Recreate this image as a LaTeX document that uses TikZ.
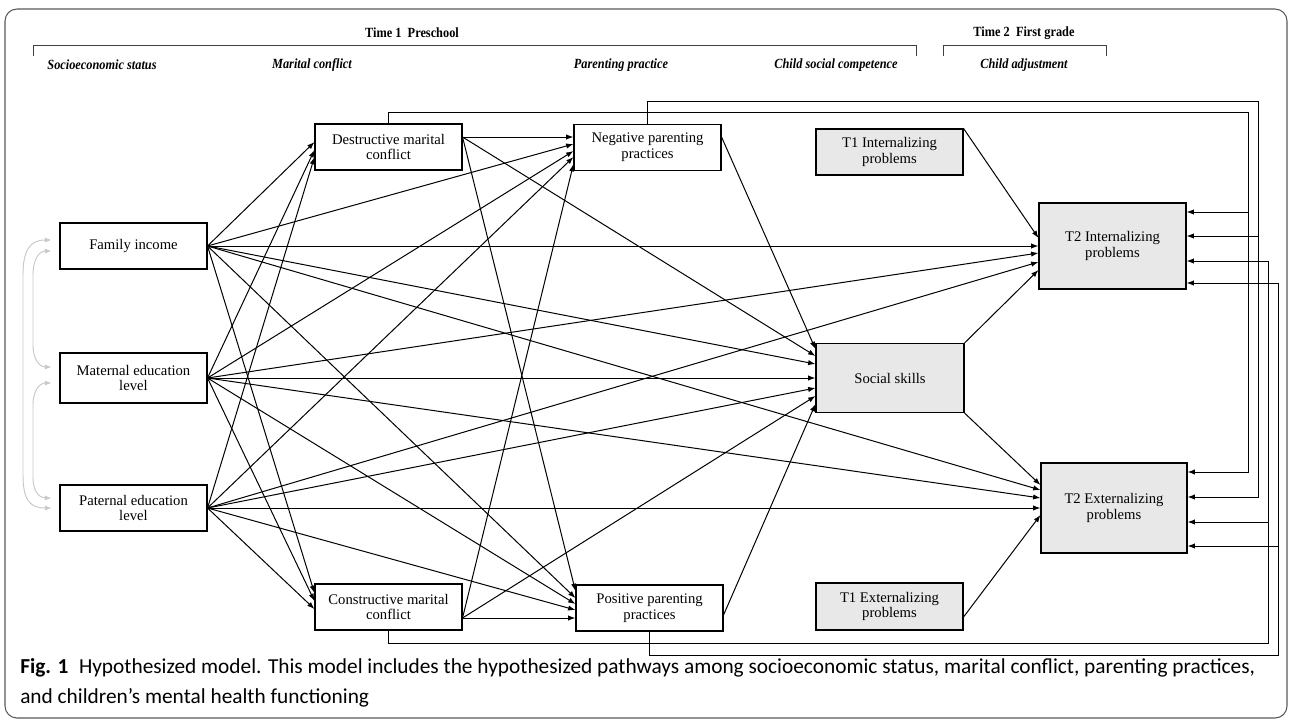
\documentclass[tikz,border=0pt]{standalone}
\usepackage{fontspec}
\setmainfont{Liberation Serif}
\newfontfamily\capfont{Carlito}
\newfontfamily\hdrfont[FakeStretch=0.88]{Liberation Serif}
\usetikzlibrary{arrows.meta,calc}
\begin{document}
\begin{tikzpicture}[x=0.75pt,y=-0.75pt,
  box/.style={draw, line width=0.8pt, fill=white, minimum width=110.25pt, minimum height=34.5pt,
    align=center, inner sep=1pt, font=\fontsize{11}{11.8}\selectfont},
  gbox/.style={box, fill=black!9},
  arr/.style={-{Latex[length=5.5pt,width=4pt]}, line width=0.75pt, line join=miter},
  corr/.style={{Latex[length=5pt,width=3.8pt]}-{Latex[length=5pt,width=3.8pt]}, draw=black!22, line width=0.7pt},
  bracket/.style={draw=black!75, line width=0.75pt},
  hdr/.style={font=\hdrfont\fontsize{10.5}{12}\selectfont\bfseries},
  colhdr/.style={font=\hdrfont\fontsize{10.5}{12}\selectfont\bfseries\itshape},
  captxt/.style={anchor=base west, inner sep=0pt, font=\capfont\fontsize{16}{19}\selectfont}]
\useasboundingbox (0,0) rectangle (1292,722);
\draw[black!65, line width=0.8pt, rounded corners=9pt] (5,9) rectangle (1287,718);

% headers
\node[hdr] (h1) at (412,33) {Time 1\ \ Preschool};
\node[hdr] (h2) at (1024,33) {Time 2\ \ First grade};
\draw[bracket] (33,56) -- (33,45) -- (916,45) -- (916,56);
\draw[bracket] (943,56) -- (943,45) -- (1106,45) -- (1106,56);
\node[colhdr] (c1) at (102,65) {Socioeconomic status};
\node[colhdr] (c2) at (312,65) {Marital conflict};
\node[colhdr] (c3) at (621,65) {Parenting practice};
\node[colhdr] (c4) at (836,65) {Child social competence};
\node[colhdr] (c5) at (1024,65) {Child adjustment};

% nodes
\node[box] (fi) at (133.5,246) {Family income};
\node[box, minimum height=37.5pt] (me) at (133.5,378) {Maternal education\\level};
\node[box] (pe) at (133.5,508) {Paternal education\\level};
\node[box] (dmc) at (388.5,147) {Destructive marital\\conflict};
\node[box] (npp) at (647.5,147.5) {Negative parenting\\practices};
\node[box] (cmc) at (388.5,607) {Constructive marital\\conflict};
\node[box] (ppp) at (649.5,608) {Positive parenting\\practices};
\node[gbox] (t1i) at (889.5,152) {T1 Internalizing\\problems};
\node[gbox, minimum width=111pt, minimum height=51.75pt] (ss) at (890,378) {Social skills};
\node[gbox, minimum height=35.25pt] (t1e) at (889.5,606.5) {T1 Externalizing\\problems};
\node[gbox, minimum height=64.5pt] (t2i) at (1112.5,246) {T2 Internalizing\\problems};
\node[gbox, minimum width=109.5pt, minimum height=67.5pt] (t2e) at (1114,508) {T2 Externalizing\\problems};

% correlations among SES
\draw[corr] ($(fi.west)+(-8,-6)$) .. controls (30,240) and (23,250) .. (23,275) -- (23,475) .. controls (23,500) and (30,508) .. ($(pe.west)+(-8,0)$);
\draw[corr] ($(fi.west)+(-8,5)$) .. controls (40,251) and (33,258) .. (33,275) -- (33,345) .. controls (33,360) and (40,367) .. ($(me.west)+(-8,-11)$);
\draw[corr] ($(me.west)+(-8,5)$) .. controls (40,383) and (33,390) .. (33,405) -- (33,478) .. controls (33,492) and (40,498) .. ($(pe.west)+(-8,-10)$);

% SES -> destructive
\draw[arr] (fi.east) -- ($(dmc.west)+(0,-5)$);
\draw[arr] (me.east) -- ($(dmc.west)+(0,3)$);
\draw[arr] (pe.east) -- ($(dmc.west)+(0,10)$);
% SES -> constructive
\draw[arr] (fi.east) -- ($(cmc.west)+(0,-14)$);
\draw[arr] (me.east) -- ($(cmc.west)+(0,-6)$);
\draw[arr] (pe.east) -- ($(cmc.west)+(0,2)$);
% -> negative parenting
\draw[arr] ($(dmc.east)+(0,-10)$) -- ($(npp.west)+(0,-10.5)$);
\draw[arr] (fi.east) -- ($(npp.west)+(0,-3.5)$);
\draw[arr] (me.east) -- ($(npp.west)+(0,3.5)$);
\draw[arr] (pe.east) -- ($(npp.west)+(0,9.5)$);
\draw[arr] ($(cmc.east)+(0,11)$) -- ($(npp.west)+(0,16.5)$);
% -> positive parenting
\draw[arr] ($(dmc.east)+(0,-10)$) -- ($(ppp.west)+(0,-17)$);
\draw[arr] (fi.east) -- ($(ppp.west)+(0,-10)$);
\draw[arr] (me.east) -- ($(ppp.west)+(0,-4)$);
\draw[arr] (pe.east) -- ($(ppp.west)+(0,2)$);
\draw[arr] ($(cmc.east)+(0,11)$) -- ($(ppp.west)+(0,10)$);
% -> social skills
\draw[arr] ($(npp.east)+(0,-10.5)$) -- ($(ss.west)+(0,-29)$);
\draw[arr] ($(dmc.east)+(0,-10)$) -- ($(ss.west)+(0,-22)$);
\draw[arr] (fi.east) -- ($(ss.west)+(0,-14)$);
\draw[arr] (me.east) -- (ss.west);
\draw[arr] (pe.east) -- ($(ss.west)+(0,10)$);
\draw[arr] ($(cmc.east)+(0,11)$) -- ($(ss.west)+(0,18)$);
\draw[arr] ($(ppp.east)+(0,7)$) -- ($(ss.west)+(0,26)$);
% -> T2 internalizing
\draw[arr] (t1i.north east) -- ($(t2i.west)+(0,-8)$);
\draw[arr] (fi.east) -- (t2i.west);
\draw[arr] (me.east) -- ($(t2i.west)+(0,7)$);
\draw[arr] (pe.east) -- ($(t2i.west)+(0,16)$);
\draw[arr] (ss.north east) -- ($(t2i.west)+(0,24)$);
% -> T2 externalizing
\draw[arr] (ss.south east) -- ($(t2e.west)+(0,-23)$);
\draw[arr] (fi.east) -- ($(t2e.west)+(0,-18)$);
\draw[arr] (me.east) -- ($(t2e.west)+(0,-10)$);
\draw[arr] (pe.east) -- (t2e.west);
\draw[arr] ($(t1e.east)+(0,10.5)$) -- ($(t2e.west)+(0,7)$);

% routed paths on the right
\draw[arr] (dmc.north) |- (1248,112) |- ($(t2e.east)+(0,-36)$);
\draw[arr] (1248,212) -- ($(t2i.east)+(0,-34)$);
\draw[arr] (npp.north) |- (1258,101) |- ($(t2e.east)+(0,-11)$);
\draw[arr] (1258,236) -- ($(t2i.east)+(0,-10)$);
\draw[arr] (cmc.south) |- (1268,643) |- ($(t2i.east)+(0,15)$);
\draw[arr] (1268,522) -- ($(t2e.east)+(0,14)$);
\draw[arr] (ppp.south) |- (1278,655) |- ($(t2i.east)+(0,37)$);
\draw[arr] (1278,546) -- ($(t2e.east)+(0,38)$);

% caption
\node[captxt] (cap1) at (20,673)
  {\textbf{Fig. 1}\hspace{0.5em}Hypothesized model. This model includes the hypothesized pathways among socioeconomic status, marital conflict, parenting practices,};
\node[captxt] (cap2) at (20,703) {and children’s mental health functioning};
\end{tikzpicture}
\end{document}
